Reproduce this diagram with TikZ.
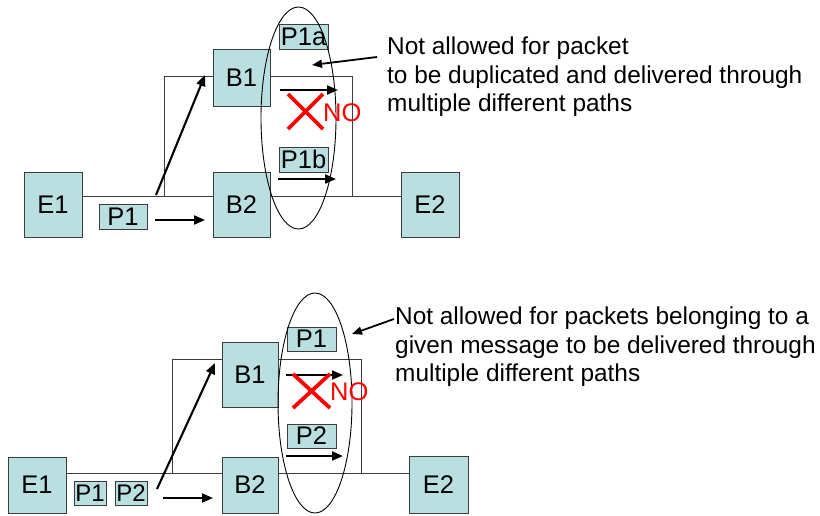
\documentclass[tikz,border=0pt]{standalone}
\usepackage{fontspec}
\setmainfont{Liberation Sans}
\usetikzlibrary{arrows.meta}
\definecolor{boxfill}{RGB}{185,223,225}
\definecolor{linegray}{RGB}{60,60,60}
\begin{document}
\begin{tikzpicture}[x=1pt,y=-1pt,
  lbl/.style={font=\fontsize{25.5}{30}\selectfont},
  small/.style={font=\fontsize{24}{28}\selectfont},
  box/.style={lbl,draw=linegray,line width=1pt,fill=boxfill,inner sep=0pt},
  wire/.style={draw=linegray,line width=1pt},
  arr/.style={draw=black,line width=2.1pt,-{Triangle[length=11pt,width=9pt]}},
  thinarr/.style={draw=black,line width=1.8pt,-{Triangle[length=10pt,width=8pt]}},
  oval/.style={draw=black,line width=0.9pt},
  nox/.style={draw=red,line width=3.8pt},
  notext/.style={lbl,text=red,inner sep=0pt,anchor=west},
  note/.style={font=\fontsize{24.4}{28.5}\selectfont,align=left,inner sep=0pt,anchor=north west}
]
\useasboundingbox (0,0) rectangle (820,515);

% ===== top diagram =====
\coordinate (tl1) at (164,196);
\coordinate (tl2) at (164,76);
\coordinate (tr1) at (352,76);
\coordinate (tr2) at (352,196);
\draw[wire] (82,196) -- (401,196);
\draw[wire] (tl1) -- (tl2) -- (tr1) -- (tr2);

\node[box,minimum width=58pt,minimum height=65pt] (E1t) at (53,204.5) {E1};
\node[box,minimum width=57pt,minimum height=65pt] (B2t) at (241.5,204.5) {B2};
\node[box,minimum width=57pt,minimum height=57pt] (B1t) at (241.5,77.5) {B1};
\node[box,minimum width=58pt,minimum height=65pt] (E2t) at (430,204.5) {E2};
\node[box,minimum width=48pt,minimum height=25pt] (P1t) at (123,216.5) {P1};
\node[box,minimum width=49pt,minimum height=25pt] (P1a) at (303.5,36.5) {P1a};
\node[box,minimum width=49pt,minimum height=25pt] (P1b) at (303.5,159.5) {P1b};

\draw[oval] (298.5,118) ellipse [x radius=37.5, y radius=111];

\coordinate (ta1s) at (156,195);
\coordinate (ta1e) at (205,75);
\draw[arr] (ta1s) -- (ta1e);
\coordinate (ta2s) at (155,220);
\coordinate (ta2e) at (205,220);
\draw[arr] (ta2s) -- (ta2e);
\coordinate (ta3s) at (280,90);
\coordinate (ta3e) at (338,90);
\draw[arr] (ta3s) -- (ta3e);
\coordinate (ta4s) at (278,179);
\coordinate (ta4e) at (336,179);
\draw[arr] (ta4s) -- (ta4e);

\coordinate (tx1) at (288,94);
\coordinate (tx2) at (323,129);
\coordinate (tx3) at (323,94);
\coordinate (tx4) at (288,129);
\draw[nox] (tx1) -- (tx2);
\draw[nox] (tx3) -- (tx4);
\node[notext] (NOt) at (323,113) {NO};

\node[note] (notet) at (387,37) {Not allowed for packet\\to be duplicated and delivered through\\multiple different paths};
\coordinate (tn1) at (377,57);
\coordinate (tn2) at (312,65);
\draw[thinarr] (tn1) -- (tn2);

% ===== bottom diagram =====
\coordinate (bl1) at (172,473);
\coordinate (bl2) at (172,359);
\coordinate (br1) at (361,359);
\coordinate (br2) at (361,473);
\draw[wire] (66,473) -- (409,473);
\draw[wire] (bl1) -- (bl2) -- (br1) -- (br2);

\node[box,minimum width=58pt,minimum height=56pt] (E1b) at (37,485) {E1};
\node[box,minimum width=56pt,minimum height=56pt] (B2b) at (250,485) {B2};
\node[box,minimum width=56pt,minimum height=65pt] (B1b) at (250,374.5) {B1};
\node[box,minimum width=59pt,minimum height=57pt] (E2b) at (438.5,484.5) {E2};
\node[box,small,minimum width=32pt,minimum height=24pt] (P1b1) at (90,493) {P1};
\node[box,small,minimum width=32pt,minimum height=24pt] (P2b1) at (131,493) {P2};
\node[box,minimum width=49pt,minimum height=24pt] (P1b2) at (311.5,339) {P1};
\node[box,minimum width=49pt,minimum height=24pt] (P2b2) at (311.5,436) {P2};

\draw[oval] (315,403) ellipse [x radius=37, y radius=110];

\coordinate (ba1s) at (157,489);
\coordinate (ba1e) at (215,363);
\draw[arr] (ba1s) -- (ba1e);
\coordinate (ba2s) at (163,498);
\coordinate (ba2e) at (213,498);
\draw[arr] (ba2s) -- (ba2e);
\coordinate (ba3s) at (286,375);
\coordinate (ba3e) at (343,375);
\draw[arr] (ba3s) -- (ba3e);
\coordinate (ba4s) at (286,456);
\coordinate (ba4e) at (343,456);
\draw[arr] (ba4s) -- (ba4e);

\coordinate (bx1) at (293,374);
\coordinate (bx2) at (330,408);
\coordinate (bx3) at (330,374);
\coordinate (bx4) at (293,408);
\draw[nox] (bx1) -- (bx2);
\draw[nox] (bx3) -- (bx4);
\node[notext] (NOb) at (330,392) {NO};

\node[note] (noteb) at (395,307) {Not allowed for packets belonging to a\\given message to be delivered through\\multiple different paths};
\coordinate (bn1) at (394,319);
\coordinate (bn2) at (352,334);
\draw[thinarr] (bn1) -- (bn2);
\end{tikzpicture}
\end{document}
